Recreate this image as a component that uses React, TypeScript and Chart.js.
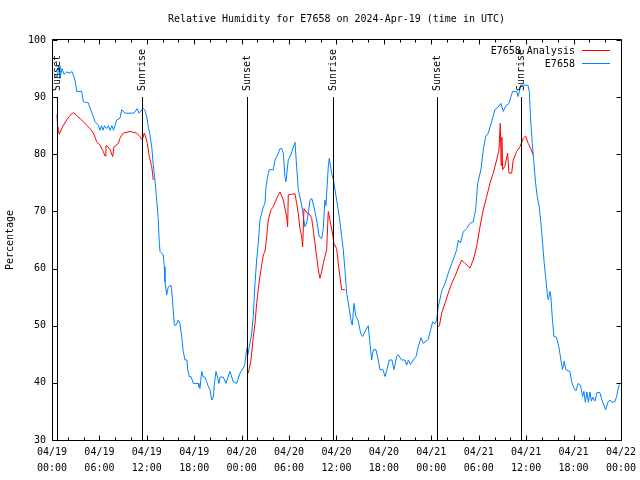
import React, { useEffect, useRef } from "react";
import { Chart, registerables } from "chart.js";

Chart.register(...registerables);

const TITLE = "Relative Humidity for E7658 on 2024-Apr-19 (time in UTC)";
const Y_LABEL = "Percentage";
const SERIES_ANALYSIS = "E7658 Analysis";
const SERIES_SENSOR = "E7658";

// x axis: hours since 04/19 00:00 UTC
const X_MIN = 0;
const X_MAX = 72;
const X_MAJOR_STEP = 6;
const X_MINOR_STEP = 2;
const Y_MIN = 30;
const Y_MAX = 100;
const Y_STEP = 10;

const xTickDates = ["04/19", "04/19", "04/19", "04/19", "04/20", "04/20", "04/20", "04/20", "04/21", "04/21", "04/21", "04/21", "04/22"];
const xTickTimes = ["00:00", "06:00", "12:00", "18:00", "00:00", "06:00", "12:00", "18:00", "00:00", "06:00", "12:00", "18:00", "00:00"];

const sunEventTimes = [0.67, 11.43, 24.71, 35.52, 48.75, 59.38];
const sunEventLabels = ["Sunset", "Sunrise", "Sunset", "Sunrise", "Sunset", "Sunrise"];
const SUN_LINE_TOP = 90;

const sensorTimes = [
  0.25, 0.63, 0.89, 1.01, 1.27, 1.52, 1.86, 2.28, 2.53, 2.91, 3.13, 3.76, 3.96, 4.59, 4.81, 5.15, 5.44, 5.86,
  6.07, 6.26, 6.45, 6.64, 6.92, 7.15, 7.34, 7.59, 7.78, 8.19, 8.6, 8.82, 9.24, 9.87, 10.38, 10.79, 11.01, 11.55,
  11.77, 11.98, 12.19, 12.4, 12.62, 12.82, 13.03, 13.25, 13.45, 13.58, 13.67, 14.08, 14.21, 14.3, 14.51, 14.72,
  15.06, 15.22, 15.35, 15.48, 15.69, 15.98, 16.2, 16.41, 16.61, 16.83, 17.08, 17.17, 17.37, 17.59, 17.88, 18.51,
  18.6, 18.73, 18.94, 19.14, 19.36, 19.57, 19.74, 19.99, 20.21, 20.41, 20.56, 20.75, 20.94, 21.13, 21.26, 21.68,
  22.02, 22.27, 22.52, 22.94, 23.37, 23.79, 24.29, 24.42, 24.64, 24.8, 25.05, 25.27, 25.47, 25.69, 25.9, 26.1,
  26.32, 26.53, 26.74, 26.95, 27.08, 27.37, 27.5, 28.0, 28.22, 28.64, 28.85, 29.07, 29.27, 29.48, 29.61, 29.9,
  30.03, 30.24, 30.75, 30.96, 31.17, 31.6, 31.8, 32.01, 32.23, 32.46, 32.65, 32.86, 33.06, 33.28, 33.49, 33.82,
  34.13, 34.33, 34.54, 34.67, 34.76, 34.96, 35.09, 35.39, 35.62, 36.02, 36.35, 36.66, 36.86, 37.07, 37.29, 37.58,
  37.83, 38.0, 38.21, 38.46, 38.72, 39.06, 39.31, 39.61, 40.02, 40.24, 40.45, 40.66, 41.0, 41.29, 41.5, 41.88,
  42.14, 42.39, 42.68, 43.02, 43.27, 43.62, 43.82, 44.25, 44.67, 44.88, 45.11, 45.36, 45.72, 46.06, 46.35, 46.69,
  46.98, 47.61, 47.92, 48.17, 48.46, 48.68, 48.88, 49.31, 49.73, 50.15, 50.58, 50.99, 51.21, 51.41, 51.69, 52.04,
  52.47, 52.89, 53.31, 53.61, 53.87, 54.28, 54.58, 54.88, 55.21, 55.64, 56.05, 56.47, 56.81, 57.1, 57.45, 57.83,
  58.08, 58.29, 58.8, 59.0, 59.31, 60.23, 60.4, 60.57, 60.78, 60.99, 61.2, 61.41, 61.66, 61.88, 62.09, 62.29,
  62.51, 62.72, 62.82, 63.01, 63.14, 63.3, 63.52, 63.83, 64.15, 64.4, 64.61, 64.82, 65.03, 65.54, 65.76, 66.05,
  66.3, 66.59, 66.87, 67.15, 67.31, 67.5, 67.69, 67.88, 68.07, 68.26, 68.45, 68.7, 68.96, 69.33, 69.59, 70.06,
  70.35, 70.61, 70.86, 71.24, 71.45, 71.66, 71.81,
];
const sensorValues = [
  94.2, 93.5, 95.5, 93.3, 95.0, 94.0, 94.4, 94.2, 94.5, 93.0, 91.0, 91.0, 89.2, 89.0, 88.1, 86.9, 85.7, 85.1,
  84.2, 85.0, 84.2, 85.0, 84.5, 85.0, 84.2, 85.0, 84.2, 86.0, 86.3, 87.8, 87.2, 87.2, 87.2, 88.0, 87.2, 88.0,
  87.7, 86.6, 84.8, 83.4, 81.3, 78.1, 75.5, 72.0, 68.5, 64.5, 63.0, 62.4, 60.3, 57.7, 55.4, 56.8,
  57.1, 55.0, 52.5, 50.1, 50.1, 51.0, 50.3, 48.1, 45.5, 44.0, 44.0, 42.3, 41.1, 41.1, 39.9, 39.9,
  39.3, 39.0, 42.0, 41.0, 41.0, 40.2, 39.5, 38.8, 37.0, 37.5, 39.9, 42.0, 41.0, 39.9, 41.0, 41.0,
  39.9, 41.0, 42.0, 40.2, 39.9, 41.7, 42.8, 43.4, 46.0, 45.0, 46.9, 48.7, 51.6, 57.4, 61.5, 64.4,
  68.5, 69.7, 70.8, 71.4, 74.3, 76.7, 77.3, 77.3, 79.0, 80.2, 81.0, 81.0, 80.2, 76.1, 75.2, 79.0,
  79.3, 80.0, 82.1, 77.8, 73.8, 71.1, 69.1, 67.3, 68.0, 70.0, 72.0, 72.3, 71.3, 70.0, 68.5, 65.6,
  65.3, 67.0, 72.0, 71.0, 73.2, 77.8, 79.3, 76.7, 75.5, 72.0, 69.1, 65.6, 63.3, 59.8, 55.7, 53.3,
  51.0, 50.1, 53.9, 51.6, 51.0, 48.7, 48.1, 49.0, 50.0, 46.9, 44.0, 45.8, 45.8, 44.0, 42.3, 42.3,
  41.1, 42.3, 44.0, 44.0, 42.3, 44.6, 44.9, 44.0, 44.0, 43.1, 44.0, 43.2, 44.0, 44.6, 46.3, 47.9,
  46.9, 47.6, 49.3, 50.7, 50.3, 51.0, 53.3, 56.0, 57.4, 59.2, 60.9, 62.4, 63.3, 65.0, 64.5, 66.4,
  67.0, 67.9, 68.2, 70.3, 74.9, 77.3, 80.8, 83.1, 83.7, 85.7, 87.8, 88.3, 88.9, 87.5, 88.5, 88.9,
  90.1, 91.0, 91.0, 90.1, 92.1, 92.1, 91.0, 86.0, 81.9, 78.4, 74.9, 72.6, 70.8, 67.9, 64.4, 60.9,
  58.0, 55.1, 54.5, 56.0, 55.0, 51.6, 48.1, 48.0, 46.3, 44.0, 42.3, 43.8, 42.3, 42.0, 40.2, 39.1,
  38.6, 39.9, 39.6, 37.6, 38.5, 36.6, 38.4, 36.6, 38.4, 36.8, 37.5, 36.8, 38.3, 38.3, 37.0, 35.3,
  36.6, 37.0, 36.6, 36.7, 37.6, 39.1, 39.7,
];

const analysisTimes = [
  0.63, 0.7, 0.92, 1.33, 1.86, 2.28, 2.7, 3.1, 3.54, 4.39, 4.81, 5.23, 5.66, 6.07, 6.49, 6.71, 6.83, 7.09, 7.34,
  7.68, 7.85, 8.39, 8.6, 9.02, 9.87, 10.72, 11.13, 11.43, 11.68, 11.89, 12.06, 12.31, 12.62, 12.82,
  18.0,
  24.84, 25.18, 25.43, 25.69, 25.9, 26.19, 26.53, 26.74, 26.95, 27.17, 27.37, 27.71, 28.0, 28.43, 28.85, 29.27,
  29.7, 29.82, 29.9, 30.75, 30.96, 31.17, 31.38, 31.6, 31.72, 31.89, 32.23, 32.65, 32.86, 33.06, 33.28, 33.49,
  33.7, 33.91, 34.13, 34.33, 34.54, 34.76, 34.96, 35.17, 35.52, 35.68, 36.02, 36.23, 36.44, 36.66, 37.07,
  42.0,
  48.8, 49.03, 49.31, 49.73, 50.15, 50.58, 50.99, 51.41, 51.84, 52.26, 52.89, 53.31, 53.74, 54.16, 54.58, 55.01,
  55.42, 55.84, 56.27, 56.56, 56.73, 56.84, 56.93, 57.03, 57.32, 57.66, 57.83, 58.17, 58.37, 58.8, 59.22, 59.64,
  59.94, 60.27, 60.57, 60.9,
];
const analysisValues = [
  87.0, 85.0, 83.5, 84.8, 86.0, 86.8, 87.3, 86.8, 86.3, 85.1, 84.5, 83.7, 82.2, 81.6, 80.5, 79.7, 81.5, 81.3, 80.8,
  79.6, 81.3, 81.9, 82.8, 83.7, 84.0, 83.7, 83.1, 82.5, 83.7, 82.9, 81.9, 79.6, 77.8, 75.5,
  null,
  41.7, 44.0, 47.5, 50.4, 53.9, 57.4, 60.6, 62.4, 63.0, 65.6, 68.5, 70.3, 70.8, 72.3, 73.4, 72.0,
  69.0, 67.3, 72.9, 73.1, 71.4, 69.6, 67.0, 65.6, 63.8, 70.5, 69.8, 69.4, 68.8, 66.8, 64.4, 62.1,
  59.8, 58.3, 59.5, 60.9, 62.1, 63.3, 70.0, 68.5, 65.9, 64.4, 63.5, 60.9, 58.6, 56.3, 56.3,
  null,
  49.8, 50.0, 52.2, 53.9, 55.7, 57.4, 58.6, 60.1, 61.5, 60.9, 60.1, 61.5, 63.8, 67.3, 70.3, 72.6,
  74.9, 76.7, 79.0, 80.8, 85.4, 78.0, 83.0, 77.3, 78.0, 80.2, 76.7, 76.7, 79.0, 80.5, 81.3, 82.8,
  83.2, 81.9, 81.0, 79.9,
];

const RED = "#ff0000";
const BLUE = "#0080ff";
const FONT_FAMILY = "'DejaVu Sans Mono', monospace";
const FONT = `10px ${FONT_FAMILY}`;

const toPoints = (xs: number[], ys: (number | null)[]) => xs.map((x, i) => ({ x, y: ys[i] }));

const overlayPlugin = {
  id: "gnuplotOverlay",
  afterDatasetsDraw(chart: any) {
    const { ctx, chartArea: a, scales } = chart;
    const xs = scales.x;
    const ys = scales.y;
    ctx.save();
    ctx.strokeStyle = "#000";
    ctx.fillStyle = "#000";
    ctx.lineWidth = 1;
    ctx.font = FONT;

    const L = Math.round(a.left) + 0.5;
    const R = Math.round(a.right) + 0.5;
    const T = Math.round(a.top) - 0.5;
    const B = Math.round(a.bottom) + 0.5;

    // sunrise / sunset markers
    sunEventTimes.forEach((t, i) => {
      const px = Math.round(xs.getPixelForValue(t)) + 0.5;
      const top = Math.round(ys.getPixelForValue(SUN_LINE_TOP));
      ctx.beginPath();
      ctx.moveTo(px, top);
      ctx.lineTo(px, B);
      ctx.stroke();
      ctx.save();
      ctx.translate(px, top - 6);
      ctx.rotate(-Math.PI / 2);
      ctx.textAlign = "left";
      ctx.textBaseline = "middle";
      ctx.fillText(sunEventLabels[i], 0, 0);
      ctx.restore();
    });

    // frame
    ctx.beginPath();
    ctx.rect(L, T, R - L, B - T);
    ctx.stroke();

    // x ticks (inward, both sides)
    ctx.beginPath();
    for (let h = X_MIN; h <= X_MAX + 1e-9; h += X_MINOR_STEP) {
      const px = Math.round(xs.getPixelForValue(h)) + 0.5;
      const len = h % X_MAJOR_STEP === 0 ? 5 : 3;
      ctx.moveTo(px, B);
      ctx.lineTo(px, B - len);
      ctx.moveTo(px, T);
      ctx.lineTo(px, T + len);
    }
    // y ticks (inward, both sides)
    for (let v = Y_MIN; v <= Y_MAX; v += Y_STEP) {
      const py = Math.round(ys.getPixelForValue(v)) + 0.5;
      ctx.moveTo(L, py);
      ctx.lineTo(L + 5, py);
      ctx.moveTo(R, py);
      ctx.lineTo(R - 5, py);
    }
    ctx.stroke();

    // title
    ctx.textAlign = "center";
    ctx.textBaseline = "middle";
    ctx.fillText(TITLE, (a.left + a.right) / 2, 19);

    // legend (top-right, gnuplot style: text then line sample)
    const rows = [
      { label: SERIES_ANALYSIS, color: RED },
      { label: SERIES_SENSOR, color: BLUE },
    ];
    rows.forEach((r, i) => {
      const y = Math.round(a.top + 10 + i * 13) + 0.5;
      ctx.fillStyle = "#000";
      ctx.textAlign = "right";
      ctx.textBaseline = "middle";
      ctx.fillText(r.label, a.right - 46, y + 0.5);
      ctx.strokeStyle = r.color;
      ctx.beginPath();
      ctx.moveTo(a.right - 39, y);
      ctx.lineTo(a.right - 11, y);
      ctx.stroke();
    });
    ctx.restore();
  },
};

export default function App() {
  const canvasRef = useRef<HTMLCanvasElement | null>(null);

  useEffect(() => {
    if (!canvasRef.current) return;
    const chart = new Chart(canvasRef.current, {
      type: "line",
      data: {
        datasets: [
          {
            label: SERIES_ANALYSIS,
            data: toPoints(analysisTimes, analysisValues),
            borderColor: RED,
            borderWidth: 1,
            pointRadius: 0,
            tension: 0,
            spanGaps: false,
          },
          {
            label: SERIES_SENSOR,
            data: toPoints(sensorTimes, sensorValues),
            borderColor: BLUE,
            borderWidth: 1,
            pointRadius: 0,
            tension: 0,
          },
        ],
      },
      options: {
        animation: false,
        responsive: false,
        maintainAspectRatio: false,
        devicePixelRatio: 1,
        layout: { padding: { top: 40, right: 19, left: 0, bottom: 0 } },
        plugins: {
          legend: { display: false },
          title: { display: false },
          tooltip: { enabled: false },
        },
        scales: {
          x: {
            type: "linear",
            min: X_MIN,
            max: X_MAX,
            afterFit: (s: any) => {
              s.height = 40;
            },
            grid: { display: false, drawTicks: false },
            border: { display: false },
            ticks: {
              stepSize: X_MAJOR_STEP,
              autoSkip: false,
              maxRotation: 0,
              minRotation: 0,
              padding: 4,
              color: "#000",
              font: { family: FONT_FAMILY, size: 10, lineHeight: 1.6 },
              callback: (value: any) => {
                const i = Math.round(Number(value) / X_MAJOR_STEP);
                return [xTickDates[i], xTickTimes[i]];
              },
            },
          },
          y: {
            type: "linear",
            min: Y_MIN,
            max: Y_MAX,
            afterFit: (s: any) => {
              s.width = 52;
            },
            grid: { display: false, drawTicks: false },
            border: { display: false },
            ticks: {
              stepSize: Y_STEP,
              padding: 6,
              color: "#000",
              font: { family: FONT_FAMILY, size: 10 },
            },
            title: {
              display: true,
              text: Y_LABEL,
              color: "#000",
              font: { family: FONT_FAMILY, size: 10 },
              padding: { top: 4, bottom: 0 },
            },
          },
        },
      },
      plugins: [overlayPlugin],
    });
    return () => chart.destroy();
  }, []);

  return (
    <div style={{ position: "absolute", left: 0, top: 0, width: 640, height: 480, background: "#fff" }}>
      <canvas ref={canvasRef} width={640} height={480} />
    </div>
  );
}
